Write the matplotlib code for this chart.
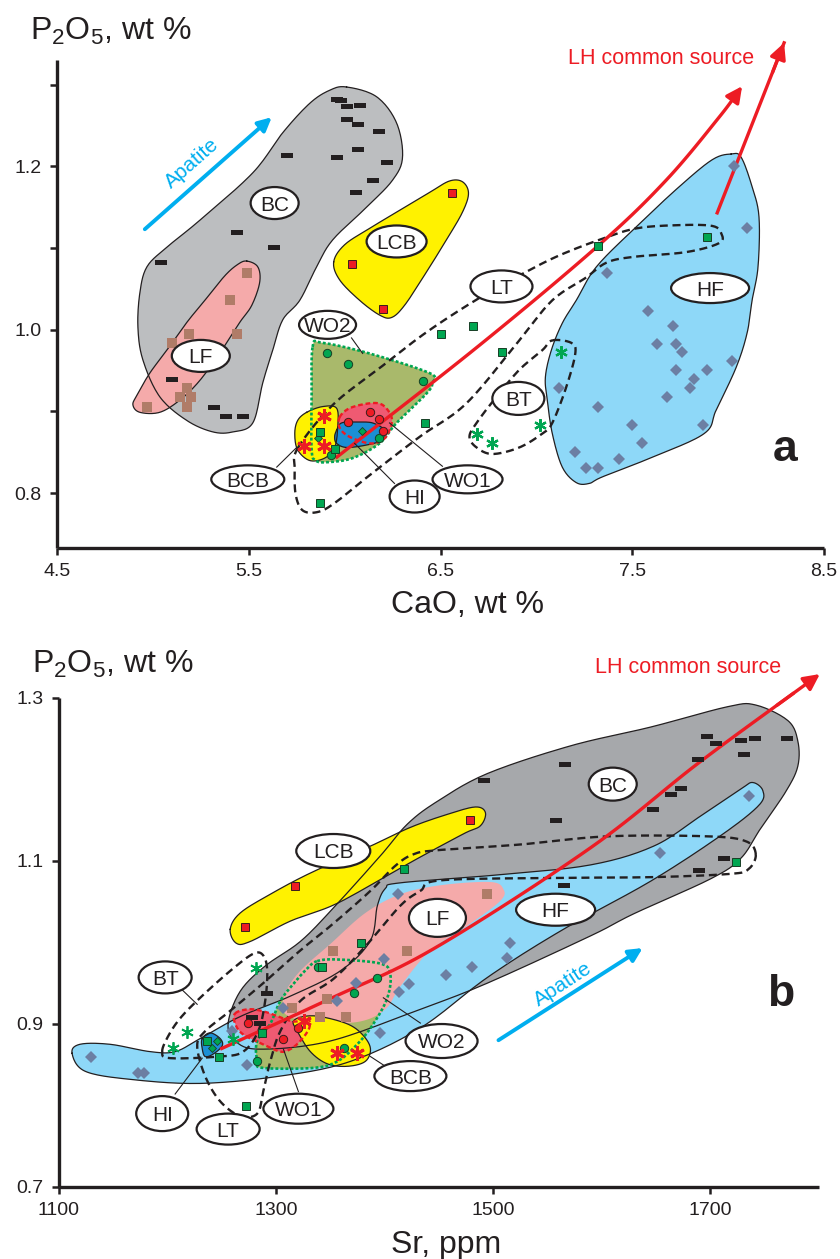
import numpy as np
import matplotlib
matplotlib.use('Agg')
import matplotlib.pyplot as plt
from matplotlib.patches import Polygon, Ellipse
from matplotlib.path import Path
import matplotlib.transforms as mtransforms

plt.rcParams['font.family'] = ['Liberation Sans', 'DejaVu Sans']
plt.rcParams['mathtext.fontset'] = 'custom'
plt.rcParams['mathtext.rm'] = 'Liberation Sans'
plt.rcParams['mathtext.it'] = 'Liberation Sans:italic'
plt.rcParams['mathtext.bf'] = 'Liberation Sans:bold'

# ======================= DATA: panel a (CaO vs P2O5) =======================
a_BC_cao = [5.96, 5.98, 6.01, 6.08, 6.01, 6.07, 6.18, 6.07, 5.96, 5.70, 6.22, 6.15, 6.06, 5.44, 5.63, 5.04, 5.10, 5.32, 5.38, 5.47]
a_BC_p   = [1.282, 1.281, 1.274, 1.275, 1.258, 1.252, 1.243, 1.221, 1.211, 1.214, 1.205, 1.183, 1.168, 1.119, 1.101, 1.083, 0.940, 0.906, 0.895, 0.895]
a_LF_cao = [5.49, 5.40, 5.19, 5.44, 5.10, 5.18, 5.14, 5.20, 5.18, 4.97]
a_LF_p   = [1.069, 1.037, 0.995, 0.995, 0.984, 0.929, 0.918, 0.918, 0.906, 0.906]
a_LCB_cao = [6.04, 6.20, 6.56]
a_LCB_p   = [1.080, 1.026, 1.167]
a_HF_cao = [8.03, 8.10, 7.37, 7.58, 7.71, 7.63, 7.73, 7.76, 8.02, 7.12, 7.73, 7.89, 7.82, 7.80, 7.68, 7.32, 7.50, 7.87, 7.55, 7.20, 7.43, 7.26, 7.32]
a_HF_p   = [1.200, 1.124, 1.069, 1.023, 1.004, 0.982, 0.982, 0.973, 0.962, 0.929, 0.951, 0.951, 0.940, 0.929, 0.918, 0.906, 0.884, 0.884, 0.862, 0.851, 0.842, 0.831, 0.831]
a_LT_cao = [7.32, 7.89, 6.50, 6.67, 6.82, 6.42, 5.87, 5.87, 5.95]
a_LT_p   = [1.102, 1.113, 0.995, 1.004, 0.973, 0.886, 0.788, 0.875, 0.854]
a_BT_cao = [7.13, 7.02, 6.69, 6.77]
a_BT_p   = [0.973, 0.884, 0.873, 0.862]
a_BCB_cao = [5.89, 5.79, 5.89]
a_BCB_p   = [0.895, 0.858, 0.858]
a_WO2_cao = [5.91, 6.02, 6.41, 6.18, 5.93]
a_WO2_p   = [0.971, 0.958, 0.937, 0.867, 0.847]
a_WO1_cao = [6.02, 6.13, 6.18, 6.20]
a_WO1_p   = [0.887, 0.899, 0.891, 0.876]
a_HI_cao = [6.09, 5.86]
a_HI_p   = [0.876, 0.867]

# field outlines, panel a
a_BC_fx = [6.010, 6.167, 6.271, 6.302, 6.250, 6.115, 5.938, 5.854, 5.766, 5.677, 5.625, 5.573, 5.521, 5.417, 5.313, 5.177, 5.036, 4.948, 4.922, 4.932, 4.969, 5.073, 5.245, 5.521, 5.677, 5.818, 5.922]
a_BC_fy = [1.297, 1.285, 1.253, 1.211, 1.183, 1.150, 1.110, 1.077, 1.036, 1.012, 0.975, 0.935, 0.886, 0.875, 0.875, 0.889, 0.918, 0.963, 1.003, 1.045, 1.077, 1.101, 1.134, 1.192, 1.241, 1.277, 1.293]
a_LF_fx = [5.490, 5.547, 5.557, 5.516, 5.453, 5.359, 5.245, 5.141, 5.036, 4.932, 4.896, 4.917, 4.984, 5.073, 5.177, 5.271, 5.375, 5.443]
a_LF_fy = [1.084, 1.077, 1.058, 1.030, 1.009, 0.975, 0.938, 0.914, 0.899, 0.899, 0.908, 0.920, 0.947, 0.975, 1.009, 1.036, 1.066, 1.080]
a_LCB_fx = [5.943, 6.000, 6.130, 6.286, 6.443, 6.547, 6.615, 6.646, 6.615, 6.531, 6.417, 6.313, 6.245, 6.182, 6.078, 5.974]
a_LCB_fy = [1.083, 1.104, 1.124, 1.146, 1.168, 1.182, 1.181, 1.167, 1.144, 1.110, 1.067, 1.030, 1.015, 1.018, 1.036, 1.061]
a_HF_fx = [8.016, 8.068, 8.125, 8.161, 8.156, 8.125, 8.099, 8.042, 7.938, 7.875, 7.604, 7.344, 7.276, 7.208, 7.135, 7.083, 7.057, 7.047, 7.078, 7.135, 7.208, 7.313, 7.521, 7.745, 7.917]
a_HF_fy = [1.215, 1.211, 1.175, 1.138, 1.077, 1.036, 0.996, 0.954, 0.902, 0.873, 0.844, 0.820, 0.812, 0.813, 0.832, 0.873, 0.914, 0.942, 0.975, 1.008, 1.036, 1.077, 1.126, 1.175, 1.208]
a_LT_fx = [5.755, 5.938, 6.182, 6.427, 6.703, 6.948, 7.120, 7.328, 7.521, 7.745, 7.917, 7.964, 7.953, 7.781, 7.500, 7.365, 7.260, 7.083, 6.911, 6.635, 6.391, 6.130, 5.948, 5.859, 5.781, 5.745, 5.740]
a_LT_fy = [0.855, 0.908, 0.953, 0.997, 1.039, 1.071, 1.091, 1.110, 1.124, 1.128, 1.127, 1.118, 1.106, 1.095, 1.089, 1.082, 1.064, 1.036, 0.987, 0.910, 0.869, 0.822, 0.788, 0.777, 0.779, 0.798, 0.828]
a_BT_fx = [7.083, 7.182, 7.203, 7.156, 7.083, 7.031, 6.911, 6.771, 6.688, 6.651, 6.688, 6.792, 6.911, 7.031]
a_BT_fy = [0.987, 0.984, 0.971, 0.930, 0.886, 0.873, 0.856, 0.848, 0.856, 0.869, 0.886, 0.918, 0.951, 0.975]
a_BCB_fx = [5.802, 5.885, 5.958, 5.964, 5.948, 5.896, 5.818, 5.755, 5.740, 5.755]
a_BCB_fy = [0.899, 0.906, 0.904, 0.881, 0.856, 0.843, 0.840, 0.853, 0.873, 0.889]
a_WO2_fx = [5.833, 5.885, 6.130, 6.443, 6.458, 6.427, 6.271, 6.182, 6.042, 5.911, 5.849, 5.828, 5.828]
a_WO2_fy = [0.979, 0.984, 0.971, 0.947, 0.935, 0.922, 0.886, 0.861, 0.843, 0.838, 0.840, 0.853, 0.914]
a_WO1_fx = [5.974, 6.026, 6.130, 6.198, 6.245, 6.234, 6.198, 6.130, 6.026, 5.974]
a_WO1_fy = [0.893, 0.904, 0.910, 0.908, 0.893, 0.877, 0.865, 0.861, 0.869, 0.880]
a_HI_fx = [5.958, 5.984, 6.063, 6.146, 6.208, 6.193, 6.115, 6.010, 5.958, 5.948]
a_HI_fy = [0.877, 0.886, 0.887, 0.886, 0.877, 0.865, 0.859, 0.856, 0.861, 0.869]

a_LH_x = [5.953, 6.703, 7.328, 7.677, 7.953, 8.073]
a_LH_y = [0.843, 0.981, 1.104, 1.183, 1.260, 1.298]
a_LH2_x = [7.943, 8.292]
a_LH2_y = [1.143, 1.351]
a_apatite_x = [4.958, 5.620]
a_apatite_y = [1.123, 1.260]

# ======================= DATA: panel b (Sr vs P2O5) =======================
b_BC_sr = [1696.7, 1705.0, 1728.1, 1741.0, 1770.5, 1730.8, 1688.4, 1565.8, 1491.2, 1672.6, 1663.4, 1646.8, 1557.4, 1712.2, 1689.1, 1564.9, 1291.9, 1278.1, 1285.5]
b_BC_p  = [1.253, 1.244, 1.248, 1.251, 1.251, 1.231, 1.225, 1.219, 1.199, 1.189, 1.182, 1.163, 1.150, 1.103, 1.089, 1.070, 0.938, 0.909, 0.901]
b_LF_sr = [1494.0, 1420.3, 1352.9, 1315.1, 1347.4, 1340.9, 1364.8]
b_LF_p  = [1.059, 0.989, 0.990, 0.919, 0.930, 0.909, 0.909]
b_LCB_sr = [1317.9, 1271.8, 1479.1]
b_LCB_p  = [1.069, 1.019, 1.150]
b_HF_sr = [1735.3, 1653.3, 1515.9, 1512.3, 1480.9, 1457.0, 1422.9, 1413.6, 1412.7, 1399.8, 1374.0, 1356.5, 1396.1, 1306.7, 1259.7, 1273.5, 1129.8, 1173.1, 1178.6]
b_HF_p  = [1.179, 1.109, 0.999, 0.981, 0.970, 0.960, 0.949, 0.939, 1.059, 0.979, 0.950, 0.928, 0.889, 0.919, 0.891, 0.849, 0.859, 0.840, 0.840]
b_LT_sr = [1417.5, 1723.4, 1378.6, 1342.7, 1236.7, 1247.8, 1272.7, 1287.5]
b_LT_p  = [1.090, 1.099, 0.999, 0.970, 0.879, 0.860, 0.799, 0.889]
b_BT_sr = [1282.0, 1218.4, 1205.5, 1260.8]
b_BT_p  = [0.968, 0.890, 0.870, 0.882]
b_BCB_sr = [1355.8, 1374.2, 1325.4]
b_BCB_p  = [0.864, 0.864, 0.903]
b_WO2_sr = [1339.0, 1393.4, 1372.2, 1363.0, 1282.8]
b_WO2_p  = [0.970, 0.956, 0.938, 0.871, 0.854]
b_WO1_sr = [1274.6, 1306.9, 1320.7]
b_WO1_p  = [0.901, 0.882, 0.895]
b_HI_sr = [1245.9, 1241.3]
b_HI_p  = [0.879, 0.870]

# field outlines, panel b
b_BC_fx = [1256.0, 1267.1, 1290.1, 1322.4, 1352.8, 1396.1, 1421.0, 1448.7, 1494.7, 1571.3, 1645.0, 1716.0, 1741.8, 1771.3, 1780.5, 1780.5, 1769.5, 1746.4, 1728.0, 1700.4, 1629.4, 1589.8, 1494.7, 1433.0, 1350.0, 1285.5, 1262.5]
b_BC_fy = [0.901, 0.940, 0.971, 1.001, 1.042, 1.106, 1.145, 1.173, 1.207, 1.241, 1.264, 1.289, 1.291, 1.272, 1.247, 1.216, 1.185, 1.140, 1.103, 1.078, 1.035, 1.008, 0.950, 0.918, 0.879, 0.869, 0.879]
b_HF_fx = [1112.3, 1119.6, 1147.3, 1184.1, 1207.2, 1230.2, 1267.1, 1313.2, 1359.3, 1386.9, 1393.4, 1400.8, 1414.6, 1506.7, 1589.8, 1647.8, 1691.1, 1728.0, 1739.0, 1748.3, 1744.6, 1709.6, 1645.0, 1562.1, 1494.7, 1433.0, 1368.5, 1304.0, 1230.2, 1165.7, 1124.2]
b_HF_fy = [0.864, 0.875, 0.875, 0.866, 0.866, 0.882, 0.909, 0.934, 0.965, 1.002, 1.045, 1.066, 1.073, 1.083, 1.095, 1.118, 1.155, 1.188, 1.196, 1.186, 1.168, 1.131, 1.075, 1.014, 0.957, 0.895, 0.854, 0.836, 0.827, 0.832, 0.842]
b_LCB_fx = [1257.9, 1267.1, 1294.8, 1331.7, 1387.0, 1423.8, 1457.9, 1483.7, 1492.9, 1488.3, 1472.6, 1426.6, 1380.5, 1350.1, 1313.2, 1276.3, 1263.4]
b_LCB_fy = [1.016, 1.036, 1.059, 1.085, 1.118, 1.141, 1.157, 1.166, 1.159, 1.143, 1.133, 1.100, 1.065, 1.044, 1.026, 1.001, 0.999]
b_LF_fx = [1306.7, 1308.5, 1322.4, 1350.1, 1382.3, 1414.6, 1451.4, 1497.5, 1509.5, 1506.7, 1479.0, 1442.2, 1414.6, 1400.8, 1377.7, 1340.9, 1317.9]
b_LF_fy = [0.916, 0.938, 0.965, 0.998, 1.036, 1.059, 1.070, 1.074, 1.065, 1.051, 1.023, 0.990, 0.946, 0.918, 0.903, 0.901, 0.906]
b_WO2_fx = [1338.0, 1356.5, 1396.1, 1405.3, 1402.6, 1389.7, 1374.9, 1356.5, 1334.3, 1288.2, 1282.7, 1282.7, 1294.7, 1304.0, 1316.0, 1328.9]
b_WO2_fy = [0.977, 0.979, 0.974, 0.961, 0.932, 0.900, 0.875, 0.854, 0.846, 0.846, 0.854, 0.879, 0.900, 0.928, 0.949, 0.968]
b_WO1_fx = [1262.5, 1276.3, 1292.0, 1316.0, 1328.9, 1330.7, 1322.4, 1313.2, 1304.0, 1288.3, 1269.9, 1262.5]
b_WO1_fy = [0.913, 0.918, 0.914, 0.903, 0.907, 0.895, 0.879, 0.869, 0.866, 0.875, 0.887, 0.900]
b_BCB_fx = [1316.0, 1325.2, 1340.9, 1365.8, 1379.6, 1387.0, 1382.3, 1365.8, 1347.4, 1331.7, 1319.7]
b_BCB_fy = [0.903, 0.909, 0.909, 0.900, 0.887, 0.870, 0.854, 0.848, 0.851, 0.866, 0.891]
b_HI_fx = [1232.1, 1239.4, 1248.7, 1250.5, 1242.2, 1234.8, 1232.1]
b_HI_fy = [0.882, 0.889, 0.882, 0.873, 0.863, 0.860, 0.870]
b_BT_fx = [1195.3, 1200.8, 1211.9, 1230.2, 1257.9, 1279.1, 1288.3, 1292.0, 1290.1, 1283.7, 1269.9, 1248.7, 1202.6]
b_BT_fy = [0.866, 0.885, 0.907, 0.932, 0.965, 0.986, 0.984, 0.965, 0.928, 0.891, 0.866, 0.860, 0.858]
b_LT_fx = [1741.8, 1732.6, 1697.6, 1605.4, 1525.2, 1448.7, 1426.6, 1410.0, 1386.9, 1352.8, 1322.4, 1290.1, 1257.9, 1234.8, 1227.5, 1234.8, 1248.7, 1267.1, 1282.8, 1288.3, 1294.8, 1304.0, 1322.4, 1352.8, 1382.3, 1414.6, 1433.0, 1451.4, 1555.5, 1647.7, 1718.7, 1735.3]
b_LT_fy = [1.108, 1.124, 1.130, 1.130, 1.120, 1.113, 1.108, 1.094, 1.063, 1.023, 0.990, 0.952, 0.916, 0.891, 0.873, 0.836, 0.805, 0.787, 0.790, 0.817, 0.854, 0.891, 0.928, 0.955, 0.995, 1.045, 1.063, 1.076, 1.079, 1.080, 1.084, 1.090]

b_LH_x = [1248.7, 1350.1, 1445.0, 1589.7, 1691.1, 1800.8]
b_LH_y = [0.869, 0.931, 0.992, 1.116, 1.222, 1.329]
b_apatite_x = [1504.9, 1637.6]
b_apatite_y = [0.880, 0.993]

# ======================= STYLE =======================
FIG_W, FIG_H, DPI = 8.4, 12.59, 100
RED = '#ed1c24'
GREEN = '#00a651'
CYAN = '#00aeef'
C_BC_A = '#bcbec0'
C_BC_B = '#a6a8ab'
C_LF = '#f5aaaa'
C_LCB = '#fff200'
C_HF = '#8ed8f8'
C_WO2 = '#a9b96b'
C_WO1 = '#ef5a72'
C_HI = '#1b8fd4'
C_DASH = '#231f20'
C_BROWN = '#b07c68'
C_DIAM = '#6c7fa3'

fig = plt.figure(figsize=(FIG_W, FIG_H), dpi=DPI)
axA = fig.add_axes([0.06786, 0.56473, 0.91309, 0.38761])
axB = fig.add_axes([0.06988, 0.05719, 0.90512, 0.38864])
axA.set_xlim(4.5, 8.5); axA.set_ylim(0.733, 1.33)
axB.set_xlim(1100, 1800); axB.set_ylim(0.7, 1.3)

dash_marker = Path([(-1, -0.4), (1, -0.4), (1, 0.4), (-1, 0.4), (-1, -0.4)],
                   [Path.MOVETO, Path.LINETO, Path.LINETO, Path.LINETO, Path.CLOSEPOLY])


def _norm(ax):
    x0, x1 = ax.get_xlim(); y0, y1 = ax.get_ylim()
    bb = ax.get_position()
    return x0, x1, y0, y1, bb.width * FIG_W * DPI, bb.height * FIG_H * DPI


def _cr(p0, p1, p2, p3, t):
    return 0.5 * (2 * p1 + (-p0 + p2) * t + (2 * p0 - 5 * p1 + 4 * p2 - p3) * t ** 2
                  + (-p0 + 3 * p1 - 3 * p2 + p3) * t ** 3)


def smooth_closed(ax, xs, ys, n=14):
    x0, x1, y0, y1, W, H = _norm(ax)
    u = (np.asarray(xs) - x0) / (x1 - x0) * W
    v = (np.asarray(ys) - y0) / (y1 - y0) * H
    P = np.column_stack([u, v]); N = len(P)
    t = np.linspace(0, 1, n, endpoint=False)[:, None]
    segs = [_cr(P[(i - 1) % N], P[i], P[(i + 1) % N], P[(i + 2) % N], t) for i in range(N)]
    S = np.vstack(segs + [segs[0][:1]])
    return x0 + S[:, 0] / W * (x1 - x0), y0 + S[:, 1] / H * (y1 - y0)


def smooth_open(ax, xs, ys, n=14):
    x0, x1, y0, y1, W, H = _norm(ax)
    u = (np.asarray(xs) - x0) / (x1 - x0) * W
    v = (np.asarray(ys) - y0) / (y1 - y0) * H
    P = np.column_stack([u, v]); N = len(P)
    P = np.vstack([2 * P[0] - P[1], P, 2 * P[-1] - P[-2]])
    t = np.linspace(0, 1, n, endpoint=False)[:, None]
    segs = [_cr(P[i - 1], P[i], P[i + 1], P[i + 2], t) for i in range(1, N)]
    S = np.vstack(segs + [P[N:N + 1]])
    return x0 + S[:, 0] / W * (x1 - x0), y0 + S[:, 1] / H * (y1 - y0)


def field(ax, fx, fy, fc, z, ec='#231f20', lw=0.9, edge=True):
    sx, sy = smooth_closed(ax, fx, fy)
    ax.add_patch(Polygon(np.column_stack([sx, sy]), closed=True, fc=fc, ec='none', zorder=z))
    if edge:
        ax.plot(sx, sy, color=ec, lw=lw, zorder=7, solid_joinstyle='round')


def dotted_border(ax, fx, fy, color, lw, dashes):
    sx, sy = smooth_closed(ax, fx, fy)
    ln, = ax.plot(sx, sy, color=color, lw=lw, zorder=7.5)
    ln.set_dashes(dashes)


def dashed_outline(ax, fx, fy):
    sx, sy = smooth_closed(ax, fx, fy)
    ln, = ax.plot(sx, sy, color='#231f20', lw=1.7, zorder=8)
    ln.set_dashes((3.4, 2.0))


def ell_label(ax, x, y, text, w_px, h_px, fs=15):
    tr = fig.dpi_scale_trans + mtransforms.ScaledTranslation(x, y, ax.transData)
    ax.add_patch(Ellipse((0, 0), w_px / DPI, h_px / DPI, transform=tr, fc='white',
                         ec='#231f20', lw=1.6, zorder=20, clip_on=False))
    ttr = ax.transData + mtransforms.ScaledTranslation(0, -fs * 0.716 / 72 / 2, fig.dpi_scale_trans)
    ax.text(x, y, text, ha='center', va='baseline', fontsize=fs, color='#231f20',
            transform=ttr, zorder=21)


def leader(ax, xs, ys):
    ax.plot(xs, ys, color='#231f20', lw=0.8, zorder=19)


def arrow_head(ax, tip, tail, color, lw, ms):
    ax.annotate('', xy=tip, xytext=tail, zorder=9,
                arrowprops=dict(arrowstyle='-|>', color=color, lw=lw, mutation_scale=ms,
                                shrinkA=0, shrinkB=0), annotation_clip=False)


def red_arrow(ax, xs, ys):
    sx, sy = smooth_open(ax, xs, ys)
    ax.plot(sx[:-3], sy[:-3], color=RED, lw=2.4, zorder=9, clip_on=False, solid_capstyle='butt')
    arrow_head(ax, (sx[-1], sy[-1]), (sx[-6], sy[-6]), RED, 2.4, 24)


def apatite(ax, xs, ys, tx, ty, rot):
    arrow_head(ax, (xs[1], ys[1]), (xs[0], ys[0]), CYAN, 2.8, 20)
    ax.text(tx, ty, 'Apatite', color=CYAN, fontsize=15, rotation=rot,
            ha='center', va='center', rotation_mode='anchor', zorder=9)


def style_axes(ax):
    for s in ['top', 'right']:
        ax.spines[s].set_visible(False)
    for s in ['left', 'bottom']:
        ax.spines[s].set_linewidth(2.4)
        ax.spines[s].set_color('#231f20')
        ax.spines[s].set_capstyle('butt')
    ax.tick_params(axis='both', which='both', direction='out', length=5, width=1.8,
                   labelsize=14, pad=6, color='#231f20', labelcolor='#231f20')
    ax.patch.set_alpha(0)


def markers(ax, groups):
    for xs, ys, kw in groups:
        ax.plot(xs, ys, ls='none', zorder=12, clip_on=False, **kw)

# ======================= PANEL A =======================
ax = axA
field(ax, a_BC_fx, a_BC_fy, C_BC_A, 1)
field(ax, a_LF_fx, a_LF_fy, C_LF, 2)
field(ax, a_LCB_fx, a_LCB_fy, C_LCB, 2)
field(ax, a_HF_fx, a_HF_fy, C_HF, 2)
field(ax, a_WO2_fx, a_WO2_fy, C_WO2, 3, edge=False)
field(ax, a_BCB_fx, a_BCB_fy, C_LCB, 4)
field(ax, a_WO1_fx, a_WO1_fy, C_WO1, 5, edge=False)
field(ax, a_HI_fx, a_HI_fy, C_HI, 6)
dotted_border(ax, a_WO2_fx, a_WO2_fy, GREEN, 1.9, (1.1, 0.8))
dotted_border(ax, a_WO1_fx, a_WO1_fy, RED, 1.7, (2.0, 1.2))
dashed_outline(ax, a_LT_fx, a_LT_fy)
dashed_outline(ax, a_BT_fx, a_BT_fy)
red_arrow(ax, a_LH_x, a_LH_y)
ax.plot(a_LH2_x, a_LH2_y, color=RED, lw=2.4, zorder=9, clip_on=False)
arrow_head(ax, (a_LH2_x[1], a_LH2_y[1]),
           (a_LH2_x[1] - 0.06, a_LH2_y[1] - 0.036), RED, 2.4, 24)
apatite(ax, a_apatite_x, a_apatite_y, 5.203, 1.204, 41.4)

markers(ax, [
    (a_BC_cao, a_BC_p, dict(marker=dash_marker, ms=9, color=C_DASH, mew=0)),
    (a_LF_cao, a_LF_p, dict(marker='s', ms=6.8, color=C_BROWN, mew=0)),
    (a_LCB_cao, a_LCB_p, dict(marker='s', ms=6.0, mfc=RED, mec='#3b1c1c', mew=0.7)),
    (a_HF_cao, a_HF_p, dict(marker='D', ms=6.4, color=C_DIAM, mew=0)),
    (a_WO2_cao, a_WO2_p, dict(marker='o', ms=6.0, mfc=GREEN, mec='#173f25', mew=0.7)),
    (a_WO1_cao, a_WO1_p, dict(marker='o', ms=6.0, mfc=RED, mec='#3b1c1c', mew=0.7)),
    (a_HI_cao, a_HI_p, dict(marker='D', ms=4.5, mfc=GREEN, mec='#173f25', mew=0.6)),
    (a_LT_cao, a_LT_p, dict(marker='s', ms=6.0, mfc=GREEN, mec='#173f25', mew=0.7)),
    (a_BT_cao, a_BT_p, dict(marker=(6, 2, 0), ms=9, color=GREEN, mew=1.6)),
    (a_BCB_cao, a_BCB_p, dict(marker=(6, 2, 0), ms=10.5, color=RED, mew=2.1)),
])

leader(ax, [6.036, 6.094], [0.990, 0.971])
leader(ax, [5.646, 5.750], [0.832, 0.856])
leader(ax, [6.052, 6.260], [0.861, 0.812])
leader(ax, [6.234, 6.510], [0.886, 0.833])
for x, y, t, w, h in [(5.635, 1.155, 'BC', 48, 32), (6.271, 1.108, 'LCB', 60, 32),
                      (5.250, 0.968, 'LF', 58, 32), (5.911, 1.006, 'WO2', 57, 28),
                      (5.495, 0.817, 'BCB', 73, 28), (6.365, 0.796, 'HI', 50, 32),
                      (6.641, 0.817, 'WO1', 70, 28), (6.818, 1.053, 'LT', 62, 32),
                      (6.906, 0.916, 'BT', 52, 33), (7.906, 1.051, 'HF', 78, 30)]:
    ell_label(ax, x, y, t, w, h)

ax.text(7.651, 1.332, 'LH common source', color=RED, fontsize=15.5, ha='center', va='center',
        zorder=22, clip_on=False)
ax.text(8.297, 0.839, 'a', fontsize=32, fontweight='bold', ha='center', va='baseline',
        color='#231f20', zorder=22)
ax.set_xticks([4.5, 5.5, 6.5, 7.5, 8.5])
ax.set_xticklabels(['4.5', '5.5', '6.5', '7.5', '8.5'])
ax.set_yticks([0.8, 1.0, 1.2])
ax.set_yticklabels(['0.8', '1.0', '1.2'])
ax.set_yticks([0.9, 1.1, 1.3], minor=True)
style_axes(ax)

# ======================= PANEL B =======================
ax = axB
field(ax, b_BC_fx, b_BC_fy, C_BC_B, 1)
field(ax, b_HF_fx, b_HF_fy, C_HF, 2)
field(ax, b_LCB_fx, b_LCB_fy, C_LCB, 3)
field(ax, b_WO2_fx, b_WO2_fy, C_WO2, 3.5, edge=False)
field(ax, b_LF_fx, b_LF_fy, C_LF, 4, edge=False)
field(ax, b_WO1_fx, b_WO1_fy, C_WO1, 5, edge=False)
field(ax, b_BCB_fx, b_BCB_fy, C_LCB, 5.5)
field(ax, b_HI_fx, b_HI_fy, C_HI, 6)
dotted_border(ax, b_WO2_fx, b_WO2_fy, GREEN, 1.9, (1.1, 0.8))
dotted_border(ax, b_WO1_fx, b_WO1_fy, RED, 1.7, (2.0, 1.2))
dashed_outline(ax, b_LT_fx, b_LT_fy)
dashed_outline(ax, b_BT_fx, b_BT_fy)
red_arrow(ax, b_LH_x, b_LH_y)
apatite(ax, b_apatite_x, b_apatite_y, 1563.9, 0.949, 33)

markers(ax, [
    (b_BC_sr, b_BC_p, dict(marker=dash_marker, ms=9, color=C_DASH, mew=0)),
    (b_LF_sr, b_LF_p, dict(marker='s', ms=6.8, color=C_BROWN, mew=0)),
    (b_LCB_sr, b_LCB_p, dict(marker='s', ms=6.0, mfc=RED, mec='#3b1c1c', mew=0.7)),
    (b_HF_sr, b_HF_p, dict(marker='D', ms=6.4, color=C_DIAM, mew=0)),
    (b_WO2_sr, b_WO2_p, dict(marker='o', ms=6.0, mfc=GREEN, mec='#173f25', mew=0.7)),
    (b_WO1_sr, b_WO1_p, dict(marker='o', ms=6.0, mfc=RED, mec='#3b1c1c', mew=0.7)),
    (b_HI_sr, b_HI_p, dict(marker='D', ms=4.5, mfc=GREEN, mec='#173f25', mew=0.6)),
    (b_LT_sr, b_LT_p, dict(marker='s', ms=6.0, mfc=GREEN, mec='#173f25', mew=0.7)),
    (b_BT_sr, b_BT_p, dict(marker=(6, 2, 0), ms=9, color=GREEN, mew=1.3)),
    (b_BCB_sr, b_BCB_p, dict(marker=(6, 2, 0), ms=10.5, color=RED, mew=2.1)),
])

leader(ax, [1211.9, 1227.5], [0.944, 0.924])
leader(ax, [1207.2, 1232.1], [0.814, 0.858])
leader(ax, [1320.7, 1306.9], [0.817, 0.869])
leader(ax, [1387.0, 1400.8], [0.860, 0.848])
leader(ax, [1398.9, 1433.0], [0.932, 0.901])
for x, y, t, w, h in [(1610.1, 1.194, 'BC', 48, 33), (1352.8, 1.112, 'LCB', 74, 34),
                      (1448.7, 1.030, 'LF', 57, 38), (1557.5, 1.040, 'HF', 79, 32),
                      (1198.0, 0.957, 'BT', 53, 32), (1195.3, 0.790, 'HI', 52, 35),
                      (1256.0, 0.771, 'LT', 63, 31), (1320.7, 0.796, 'WO1', 70, 30),
                      (1423.8, 0.836, 'BCB', 72, 30), (1452.5, 0.879, 'WO2', 72, 34)]:
    ell_label(ax, x, y, t, w, h)

ax.text(1679, 1.337, 'LH common source', color=RED, fontsize=15.5, ha='center', va='center',
        zorder=22, clip_on=False)
ax.text(1764.8, 0.922, 'b', fontsize=32, fontweight='bold', ha='center', va='baseline',
        color='#231f20', zorder=22)
ax.set_xticks([1100, 1300, 1500, 1700])
ax.set_xticklabels(['1100', '1300', '1500', '1700'])
ax.set_yticks([0.7, 0.9, 1.1, 1.3])
ax.set_yticklabels(['0.7', '0.9', '1.1', '1.3'])
style_axes(ax)

# axis titles
fig.text(0.0357, 0.9686, 'P$_2$O$_5$, wt %', fontsize=23, ha='left', va='baseline', color='#231f20')
fig.text(0.556, 0.5131, 'CaO, wt %', fontsize=23, ha='center', va='baseline', color='#231f20')
fig.text(0.0381, 0.4657, 'P$_2$O$_5$, wt %', fontsize=23, ha='left', va='baseline', color='#231f20')
fig.text(0.531, 0.0048, 'Sr, ppm', fontsize=23, ha='center', va='baseline', color='#231f20')

fig.savefig('out.png', dpi=DPI, facecolor='white')
